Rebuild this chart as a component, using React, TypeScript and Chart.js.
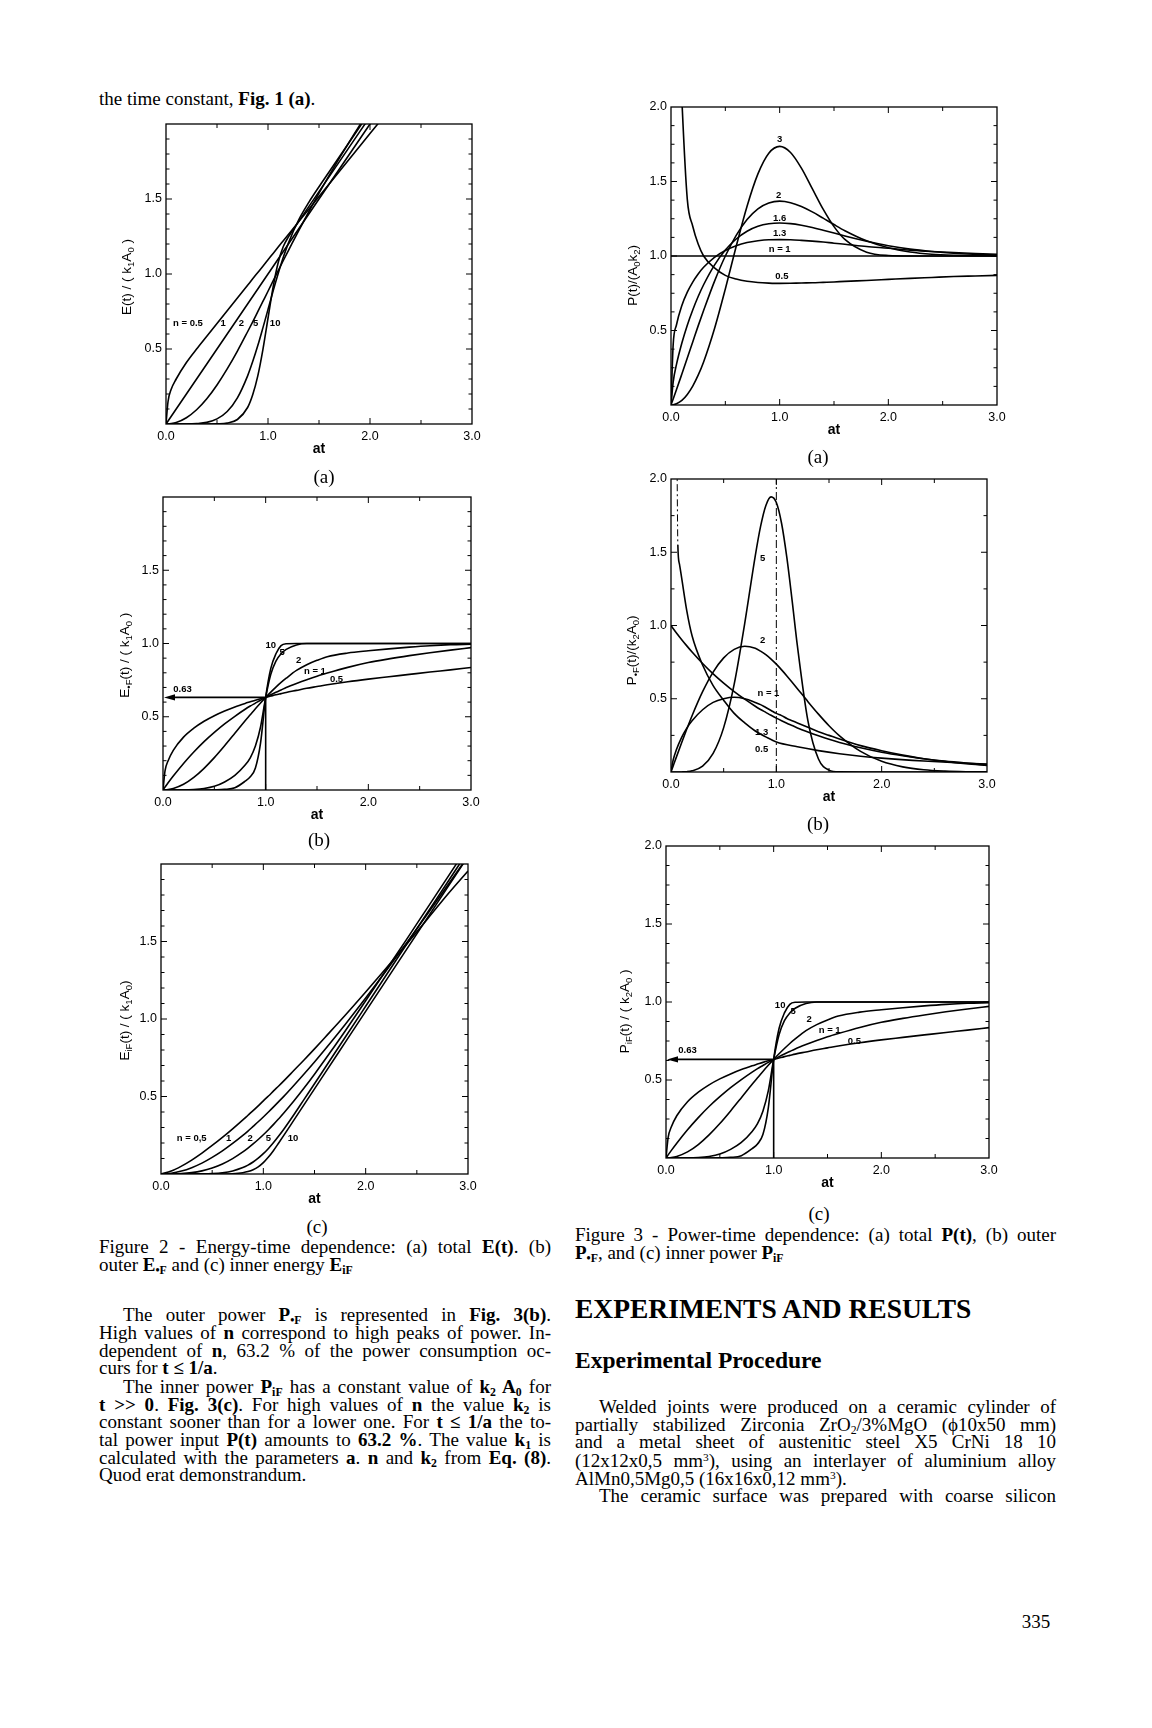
import React, { useEffect, useRef } from 'react';
import { Chart, registerables } from 'chart.js';

Chart.register(...registerables);

// ---------------- data ----------------
// Fig. 2(a) total energy E(t)/(k1A0)
const X_2A = [0, 0.02, 0.05, 0.1, 0.2, 0.3, 0.4, 0.5, 0.6, 0.7, 0.8, 0.85, 0.9, 0.95, 1.0, 1.05, 1.1, 1.15, 1.2, 1.3, 1.4, 1.5, 1.6, 1.8, 2.0, 2.2];
const E_N05 = [0, 0.15, 0.23, 0.3, 0.41, 0.5, 0.585, 0.67, 0.755, 0.84, 0.925, 0.968, 1.01, 1.052, 1.095, 1.137, 1.18, 1.222, 1.264, 1.348, 1.432, 1.516, 1.6, 1.768, 1.936, 2.104];
const E_N1 = [0, 0.02, 0.05, 0.1, 0.2, 0.3, 0.4, 0.5, 0.6, 0.7, 0.8, 0.85, 0.9, 0.95, 1.0, 1.05, 1.1, 1.15, 1.2, 1.3, 1.4, 1.5, 1.6, 1.8, 2.0, 2.2];
const E_N2 = [0, 0.0004, 0.0025, 0.01, 0.042, 0.095, 0.168, 0.26, 0.367, 0.486, 0.615, 0.681, 0.749, 0.817, 0.885, 0.954, 1.022, 1.09, 1.156, 1.288, 1.415, 1.539, 1.658, 1.884, 2.1, 2.31];
const E_N5 = [0, 0, 0, 0, 0.0003, 0.003, 0.011, 0.034, 0.083, 0.174, 0.321, 0.416, 0.523, 0.641, 0.763, 0.886, 1.003, 1.111, 1.206, 1.36, 1.478, 1.582, 1.682, 1.882, 2.082, 2.282];
const E_N10 = [0, 0, 0, 0, 0, 0, 0, 0.001, 0.006, 0.03, 0.11, 0.195, 0.321, 0.496, 0.705, 0.913, 1.077, 1.183, 1.247, 1.349, 1.449, 1.549, 1.649, 1.849, 2.049, 2.249];

// Fig. 2(b) outer energy and Fig. 3(c) inner power (identical curves)
const X_2B = [0, 0.02, 0.05, 0.1, 0.2, 0.3, 0.4, 0.5, 0.6, 0.7, 0.8, 0.85, 0.9, 0.95, 1.0, 1.05, 1.1, 1.15, 1.2, 1.3, 1.4, 1.5, 1.6, 1.8, 2.0, 2.2, 2.4, 2.6, 2.8, 3.0];
const F_N05 = [0, 0.132, 0.2, 0.271, 0.361, 0.422, 0.469, 0.507, 0.539, 0.567, 0.591, 0.602, 0.613, 0.623, 0.632, 0.641, 0.65, 0.658, 0.666, 0.68, 0.694, 0.706, 0.718, 0.739, 0.757, 0.773, 0.789, 0.805, 0.82, 0.836];
const F_N1 = [0, 0.02, 0.049, 0.095, 0.181, 0.259, 0.33, 0.393, 0.451, 0.503, 0.551, 0.573, 0.593, 0.613, 0.632, 0.65, 0.667, 0.683, 0.699, 0.727, 0.753, 0.777, 0.798, 0.837, 0.87, 0.895, 0.917, 0.937, 0.955, 0.972];
const F_N2 = [0, 0.0004, 0.0025, 0.01, 0.039, 0.086, 0.148, 0.221, 0.302, 0.387, 0.473, 0.514, 0.555, 0.594, 0.632, 0.668, 0.702, 0.734, 0.763, 0.816, 0.855, 0.885, 0.91, 0.935, 0.95, 0.963, 0.975, 0.985, 0.992, 0.995];
const F_N5 = [0, 0, 0, 0, 0.0003, 0.003, 0.01, 0.025, 0.055, 0.1, 0.17, 0.22, 0.3, 0.43, 0.632, 0.79, 0.88, 0.93, 0.96, 0.99, 1, 1, 1, 1, 1, 1, 1, 1, 1, 1];
const F_N10 = [0, 0, 0, 0, 0, 0, 0, 0.001, 0.004, 0.015, 0.06, 0.09, 0.15, 0.32, 0.632, 0.83, 0.93, 0.985, 0.998, 1, 1, 1, 1, 1, 1, 1, 1, 1, 1, 1];

// Fig. 2(c) inner energy
const X_2C = [0, 0.1, 0.2, 0.3, 0.4, 0.5, 0.6, 0.7, 0.8, 0.85, 0.9, 0.95, 1.0, 1.05, 1.1, 1.15, 1.2, 1.3, 1.4, 1.5, 1.6, 1.8, 2.0, 2.2, 2.4, 2.6, 2.8, 3.0];
const G_N05 = [0, 0.019, 0.051, 0.09, 0.135, 0.184, 0.236, 0.291, 0.349, 0.379, 0.409, 0.44, 0.472, 0.503, 0.536, 0.568, 0.601, 0.669, 0.737, 0.807, 0.879, 1.024, 1.174, 1.327, 1.483, 1.642, 1.803, 1.955];
const G_N1 = [0, 0.005, 0.019, 0.041, 0.07, 0.107, 0.149, 0.197, 0.249, 0.277, 0.307, 0.337, 0.368, 0.4, 0.433, 0.467, 0.501, 0.573, 0.647, 0.723, 0.802, 0.965, 1.135, 1.311, 1.491, 1.674, 1.861, 2.05];
const G_N2 = [0, 0.0003, 0.0026, 0.0088, 0.0203, 0.0387, 0.0648, 0.0993, 0.1423, 0.167, 0.1938, 0.2225, 0.2532, 0.2857, 0.32, 0.356, 0.393, 0.472, 0.556, 0.644, 0.735, 0.923, 1.118, 1.316, 1.514, 1.714, 1.914, 2.114];
const G_N5 = [0, 0, 0, 0.0002, 0.0008, 0.0029, 0.0082, 0.0197, 0.0414, 0.0573, 0.0774, 0.102, 0.131, 0.165, 0.203, 0.245, 0.289, 0.384, 0.483, 0.582, 0.682, 0.882, 1.082, 1.282, 1.482, 1.682, 1.882, 2.082];
const G_N10 = [0, 0, 0, 0, 0, 0, 0.0003, 0.002, 0.0085, 0.0155, 0.0273, 0.0459, 0.073, 0.109, 0.152, 0.2, 0.249, 0.349, 0.449, 0.549, 0.649, 0.849, 1.049, 1.249, 1.449, 1.649, 1.849, 2.049];

// Fig. 3(a) total power
const X_3A = [0, 0.02, 0.05, 0.1, 0.15, 0.2, 0.25, 0.3, 0.4, 0.5, 0.6, 0.7, 0.8, 0.9, 1.0, 1.1, 1.2, 1.3, 1.4, 1.5, 1.6, 1.8, 2.0, 2.2, 2.4, 2.6, 2.8, 3.0];
const P_N05 = [null, 4.5, 3.0, 2.05, 1.38, 1.2, 1.08, 1.0, 0.92, 0.87, 0.845, 0.83, 0.822, 0.818, 0.816, 0.817, 0.819, 0.82, 0.823, 0.826, 0.83, 0.836, 0.843, 0.85, 0.856, 0.862, 0.866, 0.87];
const P_N1 = [1, 1, 1, 1, 1, 1, 1, 1, 1, 1, 1, 1, 1, 1, 1, 1, 1, 1, 1, 1, 1, 1, 1, 1, 1, 1, 1, 1];
const P_N13 = [0, 0.405, 0.537, 0.668, 0.757, 0.825, 0.879, 0.924, 0.991, 1.037, 1.069, 1.09, 1.102, 1.109, 1.11, 1.109, 1.105, 1.1, 1.094, 1.086, 1.079, 1.064, 1.052, 1.039, 1.03, 1.023, 1.017, 1.012];
const P_N16 = [0, 0.154, 0.271, 0.416, 0.536, 0.638, 0.728, 0.807, 0.939, 1.04, 1.114, 1.166, 1.199, 1.216, 1.221, 1.217, 1.206, 1.191, 1.173, 1.154, 1.134, 1.099, 1.069, 1.046, 1.03, 1.018, 1.011, 1.006];
const P_N2 = [0, 0.04, 0.102, 0.208, 0.315, 0.423, 0.531, 0.634, 0.83, 1.0, 1.139, 1.245, 1.317, 1.356, 1.368, 1.358, 1.332, 1.296, 1.254, 1.211, 1.17, 1.102, 1.055, 1.027, 1.012, 1.005, 1.002, 1.001];
const P_N3 = [0, 0.001, 0.008, 0.031, 0.071, 0.127, 0.2, 0.289, 0.512, 0.779, 1.065, 1.334, 1.551, 1.69, 1.736, 1.695, 1.59, 1.452, 1.314, 1.197, 1.111, 1.025, 1.003, 1.0, 1.0, 1.0, 1.0, 1.0];

// Fig. 3(b) outer power
const X_3B = [0, 0.02, 0.05, 0.1, 0.15, 0.2, 0.3, 0.4, 0.5, 0.6, 0.7, 0.8, 0.85, 0.9, 0.95, 1.0, 1.05, 1.1, 1.15, 1.2, 1.3, 1.4, 1.5, 1.6, 1.8, 2.0, 2.2, 2.4, 2.6, 2.8, 3.0];
const X_3B_N05 = [0.03, 0.055, 0.065, 0.08, 0.1, 0.15, 0.2, 0.3, 0.4, 0.5, 0.6, 0.7, 0.8, 0.9, 1.0, 1.2, 1.4, 1.6, 1.8, 2.0, 2.4, 2.8, 3.0];
const Q_N05 = [3.5, 2.3, 1.55, 1.42, 1.33, 1.1, 0.93, 0.73, 0.59, 0.49, 0.4, 0.335, 0.28, 0.24, 0.205, 0.172, 0.146, 0.125, 0.108, 0.095, 0.075, 0.06, 0.054];
const Q_N1 = [1, 0.98, 0.951, 0.905, 0.861, 0.819, 0.741, 0.67, 0.607, 0.549, 0.497, 0.449, 0.427, 0.407, 0.387, 0.368, 0.35, 0.333, 0.317, 0.301, 0.273, 0.247, 0.223, 0.202, 0.165, 0.135, 0.111, 0.091, 0.074, 0.061, 0.05];
const Q_N13 = [0, 0.08, 0.15, 0.235, 0.3, 0.35, 0.425, 0.475, 0.5, 0.51, 0.5, 0.475, 0.46, 0.44, 0.42, 0.4, 0.385, 0.365, 0.35, 0.335, 0.305, 0.275, 0.25, 0.225, 0.18, 0.145, 0.115, 0.09, 0.072, 0.057, 0.045];
const Q_N2 = [0, 0.04, 0.0998, 0.198, 0.293, 0.384, 0.548, 0.682, 0.779, 0.837, 0.858, 0.844, 0.825, 0.801, 0.771, 0.736, 0.697, 0.656, 0.613, 0.569, 0.48, 0.395, 0.316, 0.247, 0.141, 0.073, 0.035, 0.015, 0.006, 0.002, 0.001];
const Q_N5 = [0, 0, 0, 0.0005, 0.002, 0.008, 0.0404, 0.1267, 0.3029, 0.5995, 1.0148, 1.4758, 1.6749, 1.8178, 1.8782, 1.8394, 1.6962, 1.4626, 1.1701, 0.8605, 0.3484, 0.0884, 0.0127, 0.0009, 0, 0, 0, 0, 0, 0, 0];

// tick labels shown on the value axes
const Y_LABELS_FIG2 = [0.5, 1.0, 1.5];
const Y_LABELS_FIG3 = [0.5, 1.0, 1.5, 2.0];

// curve labels
type Lbl = { t: string; x: number; y: number };
const LABELS_2A: Lbl[] = [
  { t: 'n = 0.5', x: 0.215, y: 0.67 }, { t: '1', x: 0.56, y: 0.67 }, { t: '2', x: 0.74, y: 0.67 },
  { t: '5', x: 0.88, y: 0.67 }, { t: '10', x: 1.07, y: 0.67 },
];
const LABELS_2B: Lbl[] = [
  { t: '10', x: 1.05, y: 0.99 }, { t: '5', x: 1.16, y: 0.94 }, { t: '2', x: 1.32, y: 0.886 },
  { t: 'n = 1', x: 1.48, y: 0.81 }, { t: '0.5', x: 1.69, y: 0.753 }, { t: '0.63', x: 0.19, y: 0.69 },
];
const LABELS_2C: Lbl[] = [
  { t: 'n = 0,5', x: 0.3, y: 0.229 }, { t: '1', x: 0.66, y: 0.229 }, { t: '2', x: 0.87, y: 0.229 },
  { t: '5', x: 1.05, y: 0.229 }, { t: '10', x: 1.29, y: 0.229 },
];
const LABELS_3A: Lbl[] = [
  { t: '3', x: 1.0, y: 1.78 }, { t: '2', x: 0.99, y: 1.405 }, { t: '1.6', x: 1.0, y: 1.255 },
  { t: '1.3', x: 1.0, y: 1.15 }, { t: 'n = 1', x: 1.0, y: 1.045 }, { t: '0.5', x: 1.02, y: 0.862 },
];
const LABELS_3B: Lbl[] = [
  { t: '5', x: 0.87, y: 1.46 }, { t: '2', x: 0.87, y: 0.9 }, { t: 'n = 1', x: 0.925, y: 0.535 },
  { t: '1.3', x: 0.86, y: 0.273 }, { t: '0.5', x: 0.86, y: 0.153 },
];
const LABELS_3C: Lbl[] = [
  { t: '10', x: 1.06, y: 0.98 }, { t: '5', x: 1.18, y: 0.94 }, { t: '2', x: 1.33, y: 0.887 },
  { t: 'n = 1', x: 1.52, y: 0.82 }, { t: '0.5', x: 1.75, y: 0.745 }, { t: '0.63', x: 0.2, y: 0.687 },
];

// ---------------- chart machinery ----------------
type Part = { t: string; sub?: boolean };
type Series = { xs: number[]; ys: (number | null)[]; dashAbove?: number };
type Spec = {
  area: [number, number, number, number];
  series: Series[];
  yLabels: number[];
  yMinor: number;
  title: Part[];
  titleAt: number;
  titleDx: number;
  labels: Lbl[];
  annot?: 'arrow' | 'dash';
};

const SANS = '"Liberation Sans", Arial, sans-serif';
const SERIF = '"Liberation Serif", "Times New Roman", serif';
const PAD_L = 72, PAD_T = 14, PAD_R = 16, PAD_B = 40;

const S = (xs: number[], ys: (number | null)[], dashAbove?: number): Series => ({ xs, ys, dashAbove });

const SPECS: Spec[] = [
  {
    area: [166, 124, 472, 424],
    series: [S(X_2A, E_N05), S(X_2A, E_N1), S(X_2A, E_N2), S(X_2A, E_N5), S(X_2A, E_N10)],
    yLabels: Y_LABELS_FIG2, yMinor: 0.1,
    title: [{ t: 'E(t) / ( k' }, { t: '1', sub: true }, { t: 'A' }, { t: '0', sub: true }, { t: ' )' }],
    titleAt: 0.98, titleDx: 39, labels: LABELS_2A,
  },
  {
    area: [671, 107, 997, 405],
    series: [S(X_3A, P_N05), S(X_3A, P_N1), S(X_3A, P_N13), S(X_3A, P_N16), S(X_3A, P_N2), S(X_3A, P_N3)],
    yLabels: Y_LABELS_FIG3, yMinor: 0.125,
    title: [{ t: 'P(t)/(A' }, { t: '0', sub: true }, { t: 'k' }, { t: '2', sub: true }, { t: ')' }],
    titleAt: 0.87, titleDx: 38, labels: LABELS_3A,
  },
  {
    area: [163, 497, 471, 790],
    series: [S(X_2B, F_N05), S(X_2B, F_N1), S(X_2B, F_N2), S(X_2B, F_N5), S(X_2B, F_N10)],
    yLabels: Y_LABELS_FIG2, yMinor: 0.1,
    title: [{ t: 'E' }, { t: '•F', sub: true }, { t: '(t) / ( k' }, { t: '1', sub: true }, { t: 'A' }, { t: '0', sub: true }, { t: ' )' }],
    titleAt: 0.92, titleDx: 38, labels: LABELS_2B, annot: 'arrow',
  },
  {
    area: [671, 479, 987, 772],
    series: [S(X_3B_N05, Q_N05, 1.56), S(X_3B, Q_N1), S(X_3B, Q_N13), S(X_3B, Q_N2), S(X_3B, Q_N5)],
    yLabels: Y_LABELS_FIG3, yMinor: 0.25,
    title: [{ t: 'P' }, { t: '•F', sub: true }, { t: '(t)/(k' }, { t: '2', sub: true }, { t: 'A' }, { t: '0', sub: true }, { t: ')' }],
    titleAt: 0.83, titleDx: 39, labels: LABELS_3B, annot: 'dash',
  },
  {
    area: [161, 864, 468, 1174],
    series: [S(X_2C, G_N05), S(X_2C, G_N1), S(X_2C, G_N2), S(X_2C, G_N5), S(X_2C, G_N10)],
    yLabels: Y_LABELS_FIG2, yMinor: 0.1,
    title: [{ t: 'E' }, { t: 'iF', sub: true }, { t: '(t) / ( k' }, { t: '1', sub: true }, { t: 'A' }, { t: '0', sub: true }, { t: ')' }],
    titleAt: 0.99, titleDx: 36, labels: LABELS_2C,
  },
  {
    area: [666, 846, 989, 1158],
    series: [S(X_2B, F_N05), S(X_2B, F_N1), S(X_2B, F_N2), S(X_2B, F_N5), S(X_2B, F_N10)],
    yLabels: Y_LABELS_FIG3, yMinor: 0.125,
    title: [{ t: 'P' }, { t: 'iF', sub: true }, { t: '(t) / ( k' }, { t: '2', sub: true }, { t: 'A' }, { t: '0', sub: true }, { t: ' )' }],
    titleAt: 0.94, titleDx: 41, labels: LABELS_3C, annot: 'arrow',
  },
];

function drawRich(ctx: CanvasRenderingContext2D, parts: Part[], cx: number, cy: number) {
  ctx.save();
  ctx.translate(cx, cy);
  ctx.rotate(-Math.PI / 2);
  const big = `13.5px ${SANS}`;
  const small = `9.5px ${SANS}`;
  let w = 0;
  for (const p of parts) { ctx.font = p.sub ? small : big; w += ctx.measureText(p.t).width; }
  let x = -w / 2;
  ctx.fillStyle = '#000';
  ctx.textAlign = 'left';
  ctx.textBaseline = 'middle';
  for (const p of parts) {
    ctx.font = p.sub ? small : big;
    ctx.fillText(p.t, x, p.sub ? 4 : 0);
    x += ctx.measureText(p.t).width;
  }
  ctx.restore();
}

function makeDecor(spec: Spec) {
  return {
    id: 'decor',
    afterDatasetsDraw(chart: any) {
      const ctx: CanvasRenderingContext2D = chart.ctx;
      const ca = chart.chartArea;
      const xs = chart.scales.x;
      const ys = chart.scales.y;
      const line = (a: number, b: number, c: number, d: number) => {
        ctx.beginPath(); ctx.moveTo(a, b); ctx.lineTo(c, d); ctx.stroke();
      };
      ctx.save();
      ctx.strokeStyle = '#000';
      ctx.fillStyle = '#000';
      ctx.lineWidth = 1.3;
      ctx.strokeRect(ca.left, ca.top, ca.right - ca.left, ca.bottom - ca.top);
      ctx.lineWidth = 1;
      for (let k = 1; k < 6; k++) {
        const px = xs.getPixelForValue(k * 0.5);
        const len = k % 2 === 0 ? 6 : 4;
        line(px, ca.bottom, px, ca.bottom - len);
        line(px, ca.top, px, ca.top + len);
      }
      const nMinor = Math.round(2 / spec.yMinor);
      for (let k = 1; k < nMinor; k++) {
        const v = k * spec.yMinor;
        const py = ys.getPixelForValue(v);
        const major = Math.abs(v / 0.5 - Math.round(v / 0.5)) < 1e-6;
        const len = major ? 6 : 3.5;
        line(ca.left, py, ca.left + len, py);
        line(ca.right, py, ca.right - len, py);
      }
      if (spec.annot === 'arrow') {
        const y63 = ys.getPixelForValue(0.632);
        const x0 = xs.getPixelForValue(0);
        const x1 = xs.getPixelForValue(1);
        const yb = ys.getPixelForValue(0);
        ctx.lineWidth = 1.6;
        line(x1, y63, x0 + 6, y63);
        line(x1, yb, x1, y63);
        ctx.beginPath();
        ctx.moveTo(x0 + 1, y63);
        ctx.lineTo(x0 + 12, y63 - 3.2);
        ctx.lineTo(x0 + 12, y63 + 3.2);
        ctx.closePath();
        ctx.fill();
      } else if (spec.annot === 'dash') {
        const x1 = xs.getPixelForValue(1);
        ctx.lineWidth = 1;
        ctx.setLineDash([8, 3, 2, 3]);
        line(x1, ys.getPixelForValue(0), x1, ys.getPixelForValue(2));
        ctx.setLineDash([]);
      }
      ctx.font = `bold 9.5px ${SANS}`;
      ctx.textAlign = 'center';
      ctx.textBaseline = 'middle';
      for (const l of spec.labels) {
        ctx.fillText(l.t, xs.getPixelForValue(l.x), ys.getPixelForValue(l.y));
      }
      ctx.restore();
      drawRich(ctx, spec.title, ca.left - spec.titleDx, ys.getPixelForValue(spec.titleAt));
    },
  };
}

function Plot({ spec }: { spec: Spec }) {
  const ref = useRef<HTMLCanvasElement>(null);
  const [l, t, r, b] = spec.area;
  const W = r - l + PAD_L + PAD_R;
  const H = b - t + PAD_T + PAD_B;
  useEffect(() => {
    if (!ref.current) return;
    const datasets = spec.series.map((s) => ({
      data: s.xs
        .map((x, i) => ({ x, y: s.ys[i] }))
        .filter((p) => p.y !== null && p.y !== undefined) as { x: number; y: number }[],
      showLine: true,
      borderColor: '#000',
      backgroundColor: '#000',
      borderWidth: 1.6,
      pointRadius: 0,
      pointHoverRadius: 0,
      cubicInterpolationMode: 'monotone' as const,
      fill: false,
      segment: s.dashAbove !== undefined
        ? {
            borderDash: (c: any) => (c.p0.parsed.y > (s.dashAbove as number) ? [7, 3, 2, 3] : undefined),
            borderWidth: (c: any) => (c.p0.parsed.y > (s.dashAbove as number) ? 1 : undefined),
          }
        : undefined,
    }));
    const chart = new Chart(ref.current, {
      type: 'scatter',
      data: { datasets },
      options: {
        responsive: false,
        animation: false,
        devicePixelRatio: 1,
        events: [],
        layout: { padding: { left: 0, top: PAD_T, right: PAD_R, bottom: 0 } },
        plugins: { legend: { display: false }, tooltip: { enabled: false } },
        scales: {
          x: {
            type: 'linear',
            min: 0,
            max: 3,
            afterFit: (sc: any) => { sc.height = PAD_B; },
            grid: { display: false, drawTicks: false },
            border: { display: false },
            ticks: {
              stepSize: 1,
              autoSkip: false,
              maxRotation: 0,
              padding: 5,
              color: '#000',
              font: { family: 'Liberation Sans', size: 12.5 },
              callback: (v: any) => Number(v).toFixed(1),
            },
            title: {
              display: true,
              text: 'at',
              color: '#000',
              font: { family: 'Liberation Sans', size: 14, weight: 'bold' },
              padding: { top: 0, bottom: 6 },
            },
          },
          y: {
            type: 'linear',
            min: 0,
            max: 2,
            afterFit: (sc: any) => { sc.width = PAD_L; },
            grid: { display: false, drawTicks: false },
            border: { display: false },
            ticks: {
              stepSize: 0.5,
              autoSkip: false,
              padding: 4,
              color: '#000',
              font: { family: 'Liberation Sans', size: 12.5 },
              callback: (v: any) => (spec.yLabels.some((q) => Math.abs(q - Number(v)) < 1e-6) ? Number(v).toFixed(1) : ''),
            },
          },
        },
      } as any,
      plugins: [makeDecor(spec)],
    });
    return () => chart.destroy();
  }, [spec]);
  return (
    <canvas
      ref={ref}
      width={W}
      height={H}
      style={{ position: 'absolute', left: l - PAD_L, top: t - PAD_T, width: W, height: H }}
    />
  );
}

// ---------------- page text ----------------
const subS: React.CSSProperties = { fontSize: '0.62em', verticalAlign: '-0.28em', lineHeight: 0 };
const supS: React.CSSProperties = { fontSize: '0.6em', verticalAlign: '0.55em', lineHeight: 0 };
const Sb = ({ children }: { children: React.ReactNode }) => <span style={subS}>{children}</span>;
const Sp = ({ children }: { children: React.ReactNode }) => <span style={supS}>{children}</span>;

function Line({ x, y, w, indent = 0, justify = false, children }: {
  x: number; y: number; w: number; indent?: number; justify?: boolean; children: React.ReactNode;
}) {
  return (
    <div
      style={{
        position: 'absolute',
        left: x + indent,
        top: y - 12,
        width: w - indent,
        fontSize: 19,
        lineHeight: '20px',
        whiteSpace: 'nowrap',
        textAlign: justify ? 'justify' : 'left',
        textAlignLast: justify ? 'justify' : 'left',
      }}
    >
      {children}
    </div>
  );
}

function Centered({ cx, cy, children }: { cx: number; cy: number; children: React.ReactNode }) {
  return (
    <div style={{ position: 'absolute', left: cx - 30, top: cy - 12, width: 60, textAlign: 'center', fontSize: 19, lineHeight: '20px' }}>
      {children}
    </div>
  );
}

export default function App() {
  const LX = 99, LW = 452, RX = 575, RW = 481, IND = 24;
  return (
    <div
      style={{
        position: 'absolute', left: 0, top: 0, width: 1152, height: 1728, background: '#fff',
        overflow: 'hidden', fontFamily: SERIF, color: '#000',
      }}
    >
      <Line x={LX} y={101} w={LW}>the time constant, <b>Fig. 1 (a)</b>.</Line>

      {SPECS.map((s, i) => <Plot key={i} spec={s} />)}

      <Centered cx={324} cy={479}>(a)</Centered>
      <Centered cx={818} cy={459}>(a)</Centered>
      <Centered cx={319} cy={842}>(b)</Centered>
      <Centered cx={818} cy={826}>(b)</Centered>
      <Centered cx={317} cy={1229}>(c)</Centered>
      <Centered cx={819} cy={1216}>(c)</Centered>

      {/* left column */}
      <Line x={LX} y={1249} w={LW} justify>Figure 2 - Energy-time dependence: (a) total <b>E(t)</b>. (b)</Line>
      <Line x={LX} y={1267} w={LW}>outer <b>E<Sb>•F</Sb></b> and (c) inner energy <b>E<Sb>iF</Sb></b></Line>

      <Line x={LX} y={1317} w={LW} indent={IND} justify>The outer power <b>P<Sb>•F</Sb></b> is represented in <b>Fig. 3(b)</b>.</Line>
      <Line x={LX} y={1335} w={LW} justify>High values of <b>n</b> correspond to high peaks of power. In-</Line>
      <Line x={LX} y={1353} w={LW} justify>dependent of <b>n</b>, 63.2 % of the power consumption oc-</Line>
      <Line x={LX} y={1370} w={LW}>curs for <b>t ≤ 1/a</b>.</Line>
      <Line x={LX} y={1389} w={LW} indent={IND} justify>The inner power <b>P<Sb>iF</Sb></b> has a constant value of <b>k<Sb>2</Sb> A<Sb>0</Sb></b> for</Line>
      <Line x={LX} y={1407} w={LW} justify><b>t &gt;&gt; 0</b>. <b>Fig. 3(c)</b>. For high values of <b>n</b> the value <b>k<Sb>2</Sb></b> is</Line>
      <Line x={LX} y={1424} w={LW} justify>constant sooner than for a lower one. For <b>t ≤ 1/a</b> the to-</Line>
      <Line x={LX} y={1442} w={LW} justify>tal power input <b>P(t)</b> amounts to <b>63.2 %</b>. The value <b>k<Sb>1</Sb></b> is</Line>
      <Line x={LX} y={1460} w={LW} justify>calculated with the parameters <b>a</b>. <b>n</b> and <b>k<Sb>2</Sb></b> from <b>Eq. (8)</b>.</Line>
      <Line x={LX} y={1477} w={LW}>Quod erat demonstrandum.</Line>

      {/* right column */}
      <Line x={RX} y={1237} w={RW} justify>Figure 3 - Power-time dependence: (a) total <b>P(t)</b>, (b) outer</Line>
      <Line x={RX} y={1255} w={RW}><b>P<Sb>•F</Sb></b>, and (c) inner power <b>P<Sb>iF</Sb></b></Line>

      <div style={{ position: 'absolute', left: RX, top: 1294, fontSize: 27.5, lineHeight: '30px', fontWeight: 'bold', whiteSpace: 'nowrap' }}>
        EXPERIMENTS AND RESULTS
      </div>
      <div style={{ position: 'absolute', left: RX, top: 1347, fontSize: 23.5, lineHeight: '26px', fontWeight: 'bold', whiteSpace: 'nowrap' }}>
        Experimental Procedure
      </div>

      <Line x={RX} y={1409} w={RW} indent={IND} justify>Welded joints were produced on a ceramic cylinder of</Line>
      <Line x={RX} y={1427} w={RW} justify>partially stabilized Zirconia ZrO<Sb>2</Sb>/3%MgO (ϕ10x50 mm)</Line>
      <Line x={RX} y={1444} w={RW} justify>and a metal sheet of austenitic steel X5 CrNi 18 10</Line>
      <Line x={RX} y={1463} w={RW} justify>(12x12x0,5 mm<Sp>3</Sp>), using an interlayer of aluminium alloy</Line>
      <Line x={RX} y={1481} w={RW}>AlMn0,5Mg0,5 (16x16x0,12 mm<Sp>3</Sp>).</Line>
      <Line x={RX} y={1498} w={RW} indent={IND} justify>The ceramic surface was prepared with coarse silicon</Line>

      <Centered cx={1036} cy={1624}>335</Centered>
    </div>
  );
}
